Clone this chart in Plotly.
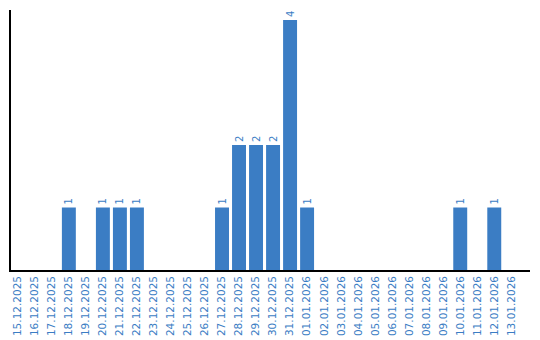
import plotly.graph_objects as go

dates = ["15.12.2025","16.12.2025","17.12.2025","18.12.2025","19.12.2025","20.12.2025",
         "21.12.2025","22.12.2025","23.12.2025","24.12.2025","25.12.2025","26.12.2025",
         "27.12.2025","28.12.2025","29.12.2025","30.12.2025","31.12.2025","01.01.2026",
         "02.01.2026","03.01.2026","04.01.2026","05.01.2026","06.01.2026","07.01.2026",
         "08.01.2026","09.01.2026","10.01.2026","11.01.2026","12.01.2026","13.01.2026"]
counts = [0,0,0,1,0,1,1,1,0,0,0,0,1,2,2,2,4,1,0,0,0,0,0,0,0,0,1,0,1,0]

color = "#3b7dc4"
labels = [str(v) if v > 0 else "" for v in counts]

fig = go.Figure(go.Bar(
    x=dates, y=counts, marker_color=color, marker_line_width=0,
    text=labels, textposition="outside", textangle=-90,
    textfont=dict(family="DejaVu Sans", size=10, color=color),
    cliponaxis=False,
))
fig.update_layout(
    width=540, height=340,
    margin=dict(l=11, r=10, t=10, b=70, autoexpand=False),
    paper_bgcolor="white", plot_bgcolor="white",
    bargap=0.18, showlegend=False,
    font=dict(family="DejaVu Sans", size=10, color=color),
)
fig.update_xaxes(type="category", range=[-0.4, 30.1], tickangle=-90, showline=True,
                 linecolor="black", linewidth=1.5, ticks="", showgrid=False, automargin=False,
                 tickfont=dict(family="DejaVu Sans", size=10.5, color=color))
fig.update_yaxes(range=[0, 4.16], showline=True, linecolor="black", linewidth=1.5,
                 showticklabels=False, ticks="", showgrid=False, zeroline=False,
                 automargin=False)
fig.write_html("out.html")
